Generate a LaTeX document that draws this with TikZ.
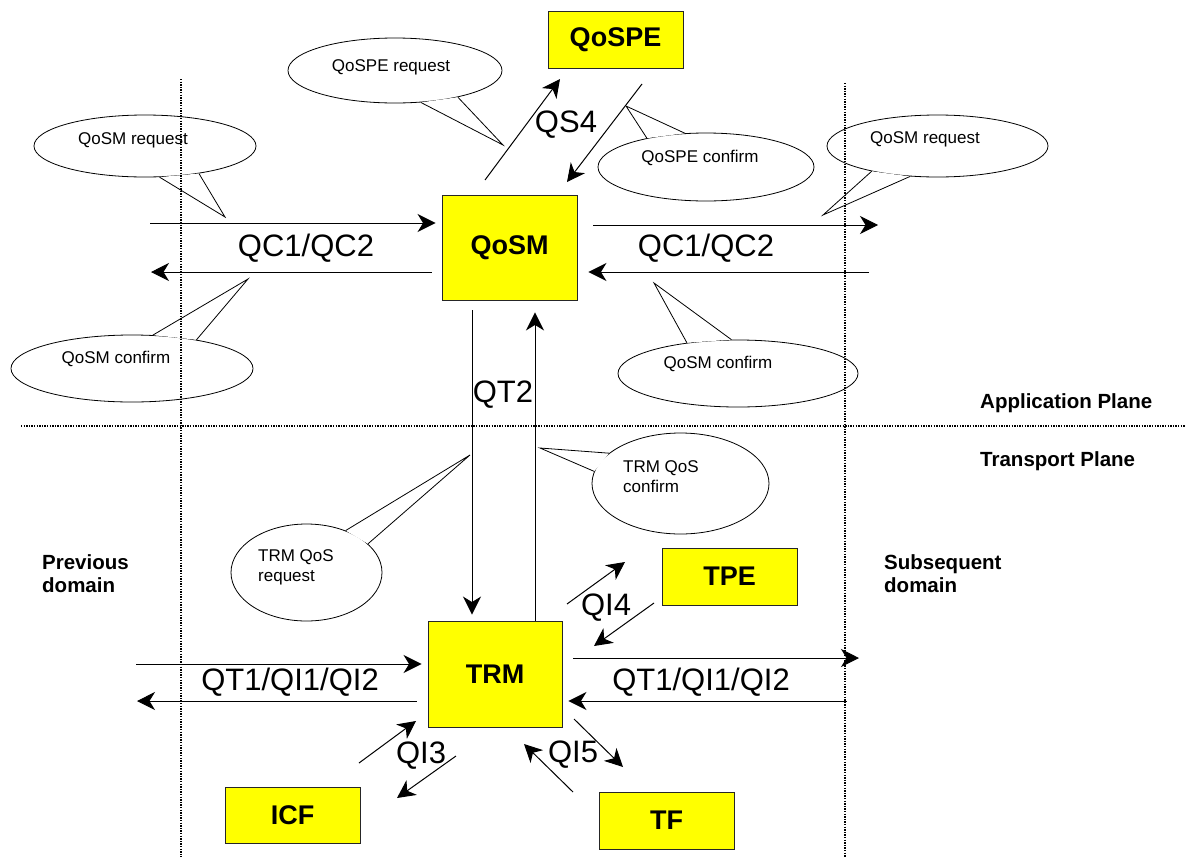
\documentclass[tikz,border=0pt]{standalone}
\usepackage{fontspec}
\setmainfont{Liberation Sans}
\usepackage{xcolor}
\usetikzlibrary{shapes.geometric, arrows.meta, calc}
\definecolor{BoxYellow}{RGB}{255,255,0}
\tikzset{
    funcbox/.style={
        draw=black!85, line width=0.9pt, fill=BoxYellow, minimum width=135pt,
        inner sep=0pt, font=\fontsize{27}{32}\selectfont\bfseries
    },
    bubble/.style={
        ellipse, draw, line width=0.8pt, fill=white, inner sep=0pt
    },
    bubbletext/.style={
        font=\fontsize{17}{20}\selectfont, align=left, inner sep=0pt
    },
    ptr/.style={
        -{Stealth[length=18pt, width=18pt, inset=5.5pt]}, line width=1pt
    },
    iflabel/.style={
        font=\fontsize{31}{36}\selectfont, inner sep=0pt
    },
    planelabel/.style={
        font=\fontsize{20.5}{23}\selectfont\bfseries, align=left, inner sep=0pt, anchor=west
    },
    divider/.style={
        line width=1.3pt, dash pattern=on 1.3pt off 1.3pt
    }
}
\newcommand{\drawbubble}[4]{
    \fill[white] (#1.#2) -- (#4) -- (#1.#3) -- cycle;
    \draw[line width=0.8pt] (#1.#2) -- (#4) -- (#1.#3);
}

\begin{document}
\begin{tikzpicture}[x=1pt, y=-1pt]
    \useasboundingbox (0,0) rectangle (1186,857);

    % --- CALLOUTS ---
    \node[bubble, minimum width=214pt, minimum height=65pt] (bQSreq)  at (395,70.5)   {};
    \node[bubble, minimum width=222pt, minimum height=62pt] (bQMreqL) at (145,146)    {};
    \node[bubble, minimum width=242pt, minimum height=67pt] (bQMconL) at (132,368.5)  {};
    \node[bubble, minimum width=216pt, minimum height=68pt] (bQScon)  at (706,167)    {};
    \node[bubble, minimum width=221pt, minimum height=62pt] (bQMreqR) at (937.5,146)  {};
    \node[bubble, minimum width=240pt, minimum height=67pt] (bQMconR) at (738,373.5)  {};
    \node[bubble, minimum width=177pt, minimum height=101pt] (bTRMcon) at (680.5,483.5) {};
    \node[bubble, minimum width=151pt, minimum height=97pt] (bTRMreq) at (306.5,572.5) {};

    \drawbubble{bQSreq}{-51.6}{-23}{503,145}
    \drawbubble{bQMreqL}{-65.7}{-27.2}{225,217}
    \drawbubble{bQMconL}{58.8}{24.9}{248,279}
    \drawbubble{bQScon}{154.2}{122.2}{626,106}
    \drawbubble{bQMreqR}{-159.1}{-132.5}{823,215}
    \drawbubble{bQMconR}{149.9}{101}{654,283}
    \drawbubble{bTRMcon}{157.4}{172.9}{540,448}
    \drawbubble{bTRMreq}{47.3}{25.6}{470,455}

    \node[bubbletext] (tQSreq)  at (391,67)  {QoSPE request};
    \node[bubbletext] (tQMreqL) at (133,140) {QoSM request};
    \node[bubbletext] (tQMconL) at (116,359) {QoSM confirm};
    \node[bubbletext] (tQScon)  at (700,158) {QoSPE confirm};
    \node[bubbletext] (tQMreqR) at (925,139) {QoSM request};
    \node[bubbletext] (tQMconR) at (718,364) {QoSM confirm};
    \node[bubbletext, anchor=west] (tTRMcon) at (623,477) {TRM QoS\\confirm};
    \node[bubbletext, anchor=west] (tTRMreq) at (258,567) {TRM QoS\\request};

    % --- PLANES AND DOMAINS ---
    \draw[divider] (21,426) -- (1186,426);
    \draw[divider] (181,79) -- (181,857);
    \draw[divider] (845,83) -- (845,857);

    \node[planelabel] (appl) at (980,403)   {Application Plane};
    \node[planelabel] (trpl) at (980,461)   {Transport Plane};
    \node[planelabel] (prev) at (42,573.5)  {Previous\\domain};
    \node[planelabel] (subs) at (884,573.5) {Subsequent\\domain};

    % --- FUNCTIONAL ENTITIES ---
    \node[funcbox, minimum height=57pt]  (qospe) at (615.5,39.5)  {QoSPE};
    \node[funcbox, minimum height=105pt] (qosm)  at (509.5,247.5) {QoSM};
    \node[funcbox, minimum width=134pt, minimum height=106pt] (trm) at (495,674) {TRM};
    \node[funcbox, minimum height=57pt]  (tpe)   at (729.5,576.5) {TPE};
    \node[funcbox, minimum height=56pt]  (icf)   at (292.5,815)   {ICF};
    \node[funcbox, minimum height=57pt]  (tf)    at (666.5,820.5) {TF};

    % --- FREE ENDS ---
    \coordinate (qcLin)  at (150,223);
    \coordinate (qcLout) at (151,272);
    \coordinate (qcRout) at (878,225);
    \coordinate (qcRin)  at (869,272);
    \coordinate (qtLin)  at (136,664);
    \coordinate (qtLout) at (137,701);
    \coordinate (qtRout) at (859,658);
    \coordinate (qtRin)  at (847,701);
    \coordinate (qs4a) at (485,180); \coordinate (qs4b) at (560,79);
    \coordinate (qs4c) at (642,84);  \coordinate (qs4d) at (567,182);
    \coordinate (qi4a) at (567,604); \coordinate (qi4b) at (625,562);
    \coordinate (qi4c) at (654,603); \coordinate (qi4d) at (594,646);
    \coordinate (qi3a) at (359,763); \coordinate (qi3b) at (416,721);
    \coordinate (qi3c) at (456,756); \coordinate (qi3d) at (397,798);
    \coordinate (qi5a) at (573,792); \coordinate (qi5b) at (524,744);
    \coordinate (qi5c) at (574,719); \coordinate (qi5d) at (623,767);

    % --- APPLICATION PLANE FLOWS ---
    \draw[ptr, shorten >=6pt]  (qcLin) -- (qcLin -| qosm.west);
    \draw[ptr, shorten <=10pt] (qcLout -| qosm.west) -- (qcLout);
    \draw[ptr, shorten <=16pt] (qcRout -| qosm.east) -- (qcRout);
    \draw[ptr, shorten >=11pt] (qcRin) -- (qcRin -| qosm.east);
    \draw[ptr] (qs4a) -- (qs4b);
    \draw[ptr] (qs4c) -- (qs4d);
    \draw[ptr, shorten <=10pt, shorten >=6pt] ([xshift=-37.5pt]qosm.south) -- ([xshift=-23pt]trm.north);
    \draw[ptr, shorten >=12pt] ([xshift=40pt]trm.north) -- ([xshift=25.5pt]qosm.south);

    \node[iflabel] (lQCL) at (306,248) {QC1/QC2};
    \node[iflabel] (lQCR) at (706,248) {QC1/QC2};
    \node[iflabel] (lQS4) at (566,125) {QS4};
    \node[iflabel] (lQT2) at (503,395) {QT2};

    % --- TRANSPORT PLANE FLOWS ---
    \draw[ptr, shorten >=6pt]  (qtLin) -- (qtLin -| trm.west);
    \draw[ptr, shorten <=11pt] (qtLout -| trm.west) -- (qtLout);
    \draw[ptr, shorten <=11pt] (qtRout -| trm.east) -- (qtRout);
    \draw[ptr, shorten >=6pt]  (qtRin) -- (qtRin -| trm.east);
    \draw[ptr] (qi4a) -- (qi4b);
    \draw[ptr] (qi4c) -- (qi4d);
    \draw[ptr] (qi3a) -- (qi3b);
    \draw[ptr] (qi3c) -- (qi3d);
    \draw[ptr] (qi5a) -- (qi5b);
    \draw[ptr] (qi5c) -- (qi5d);

    \node[iflabel] (lQTL) at (290,682) {QT1/QI1/QI2};
    \node[iflabel] (lQTR) at (701,682) {QT1/QI1/QI2};
    \node[iflabel] (lQI4) at (606,608) {QI4};
    \node[iflabel] (lQI3) at (421,756) {QI3};
    \node[iflabel] (lQI5) at (573,755) {QI5};

\end{tikzpicture}
\end{document}
